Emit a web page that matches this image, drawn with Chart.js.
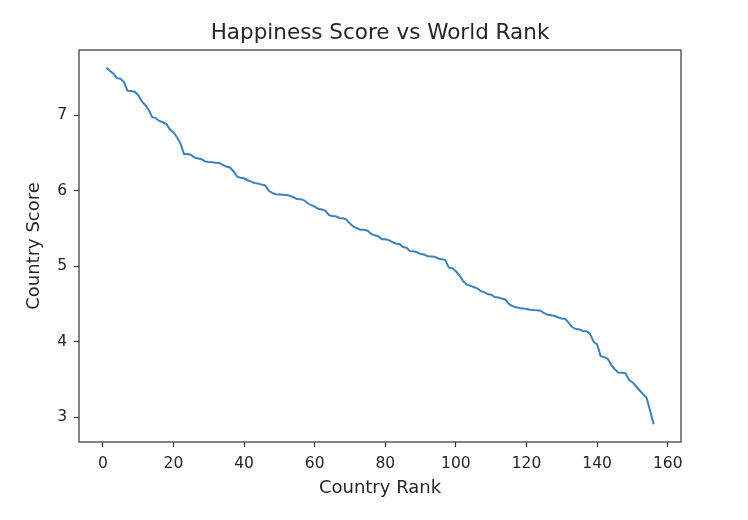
<!DOCTYPE html>
<html>
<head>
<meta charset="utf-8">
<script src="https://cdn.jsdelivr.net/npm/chart.js@4.4.1/dist/chart.umd.min.js"></script>
<style>
  html, body { margin: 0; padding: 0; background: #ffffff; }
  #wrap { width: 748px; height: 520px; }
</style>
</head>
<body>
<div id="wrap"><canvas id="c" width="748" height="520"></canvas></div>
<script>
const ranks = Array.from({length: 156}, (_, i) => i + 1);
const scores = [
  7.632, 7.594, 7.555, 7.495, 7.487, 7.441, 7.328, 7.324, 7.314, 7.272,
  7.190, 7.139, 7.072, 6.977, 6.965, 6.927, 6.910, 6.886, 6.814, 6.774,
  6.711, 6.627, 6.489, 6.488, 6.476, 6.441, 6.430, 6.419, 6.388, 6.382,
  6.379, 6.374, 6.371, 6.343, 6.322, 6.310, 6.260, 6.192, 6.173, 6.167,
  6.141, 6.123, 6.105, 6.096, 6.083, 6.072, 6.000, 5.973, 5.956, 5.952,
  5.948, 5.945, 5.933, 5.915, 5.891, 5.890, 5.875, 5.835, 5.810, 5.790,
  5.762, 5.752, 5.739, 5.681, 5.663, 5.662, 5.640, 5.636, 5.620, 5.566,
  5.524, 5.504, 5.483, 5.483, 5.472, 5.430, 5.410, 5.398, 5.358, 5.358,
  5.347, 5.321, 5.302, 5.295, 5.254, 5.246, 5.201, 5.199, 5.185, 5.161,
  5.155, 5.131, 5.129, 5.125, 5.103, 5.093, 5.082, 4.982, 4.975, 4.933,
  4.880, 4.806, 4.758, 4.743, 4.724, 4.707, 4.671, 4.657, 4.631, 4.623,
  4.592, 4.586, 4.571, 4.559, 4.500, 4.471, 4.456, 4.447, 4.441, 4.433,
  4.424, 4.419, 4.417, 4.410, 4.377, 4.356, 4.350, 4.340, 4.321, 4.308,
  4.301, 4.245, 4.190, 4.166, 4.161, 4.141, 4.139, 4.103, 3.999, 3.964,
  3.808, 3.795, 3.774, 3.692, 3.632, 3.590, 3.587, 3.582, 3.495, 3.462,
  3.408, 3.355, 3.303, 3.254, 3.083, 2.905
];
const xTicks = [0, 20, 40, 60, 80, 100, 120, 140, 160];
const yTicks = [3, 4, 5, 6, 7];

const textColor = '#262626';
const axisColor = '#333333';
const fontFamily = '"DejaVu Sans", sans-serif';

const frame = {
  id: 'frame',
  afterLayout(chart) {
    const a = chart.chartArea;
    const tb = chart.titleBlock;
    if (tb) {
      tb.left = a.left;
      tb.right = a.right;
      tb.width = a.right - a.left;
    }
  },
  afterDraw(chart) {
    const {ctx, chartArea: a} = chart;
    ctx.save();
    ctx.strokeStyle = axisColor;
    ctx.lineWidth = 1.2;
    ctx.strokeRect(a.left, a.top, a.right - a.left, a.bottom - a.top);
    ctx.restore();
  }
};

new Chart(document.getElementById('c'), {
  type: 'line',
  data: {
    datasets: [{
      data: ranks.map((r, i) => ({x: r, y: scores[i]})),
      borderColor: '#3d82ba',
      borderWidth: 2,
      pointRadius: 0,
      tension: 0,
      fill: false
    }]
  },
  options: {
    responsive: false,
    animation: false,
    layout: { padding: { left: 0, right: 67, top: 0, bottom: 0 } },
    plugins: {
      legend: { display: false },
      tooltip: { enabled: false },
      title: {
        display: true,
        text: 'Happiness Score vs World Rank',
        color: textColor,
        font: { family: fontFamily, size: 21.5, weight: 'normal' },
        padding: { top: 21, bottom: 3.2 }
      }
    },
    scales: {
      x: {
        type: 'linear',
        min: -6.75,
        max: 163.75,
        afterBuildTicks(s) { s.ticks = xTicks.map(v => ({value: v})); },
        afterFit(s) { s.height = 78; },
        grid: { drawOnChartArea: false, drawTicks: true, tickLength: 5, tickColor: axisColor, tickWidth: 1.2 },
        border: { display: false },
        ticks: { color: textColor, font: { family: fontFamily, size: 15.5 }, padding: 8, maxRotation: 0, autoSkip: false },
        title: { display: true, text: 'Country Rank', color: textColor, font: { family: fontFamily, size: 18 }, padding: 21 }
      },
      y: {
        type: 'linear',
        min: 2.6687,
        max: 7.8683,
        afterBuildTicks(s) { s.ticks = yTicks.map(v => ({value: v})); },
        afterFit(s) { s.width = 79; },
        grid: { drawOnChartArea: false, drawTicks: true, tickLength: 5, tickColor: axisColor, tickWidth: 1.2 },
        border: { display: false },
        ticks: { color: textColor, font: { family: fontFamily, size: 15.5 }, padding: 7, autoSkip: false },
        title: { display: true, text: 'Country Score', color: textColor, font: { family: fontFamily, size: 18 }, padding: 24 }
      }
    }
  },
  plugins: [frame]
});
</script>
</body>
</html>
